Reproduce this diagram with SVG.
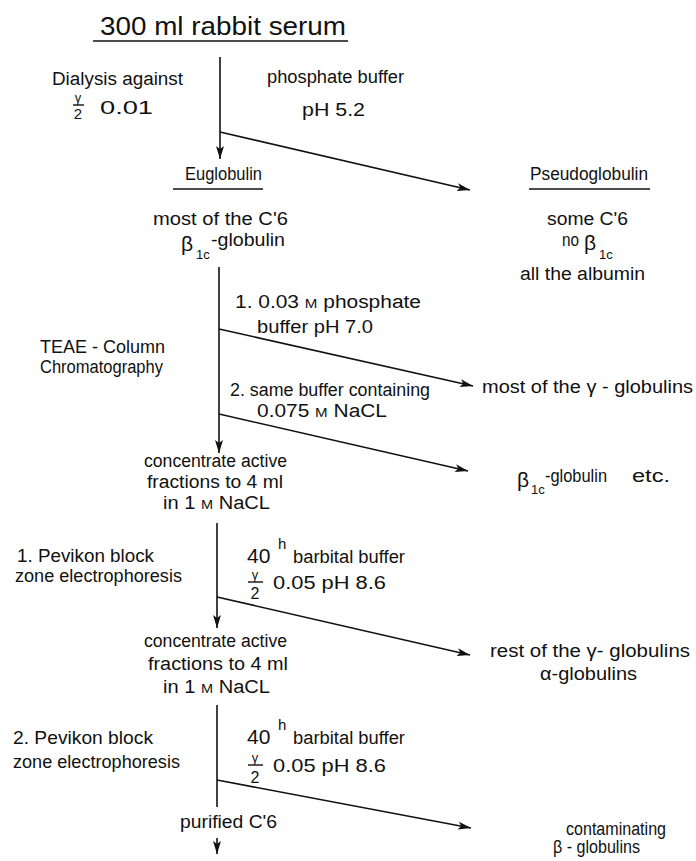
<svg xmlns="http://www.w3.org/2000/svg" width="696" height="861" viewBox="0 0 696 861">
<style>
.t{font-family:"Liberation Sans",Arial,sans-serif;font-size:18px;fill:#111}
.s{font-size:13px}
.b{font-size:21px}
.ln{stroke:#111;stroke-width:1.6;fill:none}
.ul{stroke:#111;stroke-width:1.4;fill:none}
</style>
<defs>
<marker id="ah" markerUnits="userSpaceOnUse" markerWidth="15" markerHeight="10" refX="13" refY="5" orient="auto">
<path d="M0,1 L13,5 L0,9 L3,5 z" fill="#111"/>
</marker>
</defs>
<rect width="696" height="861" fill="#fff"/>

<g id="connectors">
<line class="ln" x1="220" y1="57" x2="220" y2="159" marker-end="url(#ah)"/>
<line class="ln" x1="220" y1="132" x2="470" y2="190" marker-end="url(#ah)"/>
<line class="ln" x1="219" y1="267" x2="219" y2="453" marker-end="url(#ah)"/>
<line class="ln" x1="219" y1="329" x2="473" y2="386" marker-end="url(#ah)"/>
<line class="ln" x1="219" y1="414" x2="468" y2="471" marker-end="url(#ah)"/>
<line class="ln" x1="217" y1="523" x2="217" y2="628" marker-end="url(#ah)"/>
<line class="ln" x1="217" y1="597" x2="470" y2="655" marker-end="url(#ah)"/>
<line class="ln" x1="217" y1="705" x2="217" y2="807"/>
<line class="ln" x1="217" y1="780" x2="471" y2="828" marker-end="url(#ah)"/>
<line class="ln" x1="217" y1="838" x2="217" y2="854" marker-end="url(#ah)"/>
</g>

<g id="serum">
<text class="t" x="100" y="35" style="font-size:25px" textLength="246" lengthAdjust="spacingAndGlyphs">300 ml rabbit serum</text>
<line class="ul" x1="93" y1="41" x2="348" y2="41"/>
</g>

<g id="dialysis">
<text class="t" x="52" y="85" textLength="131" lengthAdjust="spacingAndGlyphs">Dialysis against</text>
<text class="t s" x="78" y="102" text-anchor="middle">γ</text>
<line class="ul" x1="73" y1="105" x2="84" y2="105"/>
<text class="t" x="78" y="119" text-anchor="middle" style="font-size:15px">2</text>
<text class="t" x="100" y="114" textLength="53" lengthAdjust="spacingAndGlyphs">0.01</text>
</g>

<g id="phosphate-buffer">
<text class="t" x="267" y="83" textLength="137" lengthAdjust="spacingAndGlyphs">phosphate buffer</text>
<text class="t" x="302" y="116" textLength="63" lengthAdjust="spacingAndGlyphs">pH 5.2</text>
</g>

<g id="euglobulin">
<text class="t" x="185" y="180" textLength="77" lengthAdjust="spacingAndGlyphs">Euglobulin</text>
<line class="ul" x1="173" y1="189" x2="263" y2="189"/>
<text class="t" x="153" y="225" textLength="135" lengthAdjust="spacingAndGlyphs">most of the C'6</text>
<text class="t b" x="181" y="251">β</text>
<text class="t s" x="196" y="259">1c</text>
<text class="t" x="211" y="246" textLength="74" lengthAdjust="spacingAndGlyphs">-globulin</text>
</g>

<g id="pseudoglobulin">
<text class="t" x="530" y="180" textLength="118" lengthAdjust="spacingAndGlyphs">Pseudoglobulin</text>
<line class="ul" x1="529" y1="189" x2="650" y2="189"/>
<text class="t" x="547" y="225" textLength="81" lengthAdjust="spacingAndGlyphs">some C'6</text>
<text class="t" x="562" y="246" textLength="17" lengthAdjust="spacingAndGlyphs">no</text>
<text class="t b" x="584" y="250">β</text>
<text class="t s" x="599" y="259">1c</text>
<text class="t" x="520" y="280" textLength="125" lengthAdjust="spacingAndGlyphs">all the albumin</text>
</g>

<g id="teae">
<text class="t" x="40" y="353" textLength="125" lengthAdjust="spacingAndGlyphs">TEAE - Column</text>
<text class="t" x="40" y="373" textLength="123" lengthAdjust="spacingAndGlyphs">Chromatography</text>
</g>

<g id="step1-buffer">
<text class="t" x="235" y="308" textLength="186" lengthAdjust="spacingAndGlyphs">1.  0.03 <tspan class="s">M</tspan> phosphate</text>
<text class="t" x="257" y="333" textLength="116" lengthAdjust="spacingAndGlyphs">buffer pH 7.0</text>
</g>

<g id="step2-buffer">
<text class="t" x="230" y="396" textLength="200" lengthAdjust="spacingAndGlyphs">2.  same buffer containing</text>
<text class="t" x="257" y="417" textLength="130" lengthAdjust="spacingAndGlyphs">0.075 <tspan class="s">M</tspan> NaCL</text>
</g>

<g id="gamma-globulins">
<text class="t" x="482" y="393" textLength="211" lengthAdjust="spacingAndGlyphs">most of the γ - globulins</text>
</g>

<g id="beta-globulin">
<text class="t b" x="517" y="487">β</text>
<text class="t s" x="531" y="494">1c</text>
<text class="t" x="545" y="482" textLength="62" lengthAdjust="spacingAndGlyphs">-globulin</text>
<text class="t" x="632" y="482" textLength="38" lengthAdjust="spacingAndGlyphs">etc.</text>
</g>

<g id="concentrate1">
<text class="t" x="144" y="467" textLength="143" lengthAdjust="spacingAndGlyphs">concentrate active</text>
<text class="t" x="147" y="488" textLength="136" lengthAdjust="spacingAndGlyphs">fractions to 4 ml</text>
<text class="t" x="163" y="509" textLength="107" lengthAdjust="spacingAndGlyphs">in 1 <tspan class="s">M</tspan>  NaCL</text>
</g>

<g id="pevikon1">
<text class="t" x="17" y="562" textLength="137" lengthAdjust="spacingAndGlyphs">1.  Pevikon block</text>
<text class="t" x="15" y="582" textLength="167" lengthAdjust="spacingAndGlyphs">zone electrophoresis</text>
</g>

<g id="barbital1">
<text class="t b" x="247" y="563">40</text>
<text class="t" x="278" y="549" style="font-size:15px">h</text>
<text class="t" x="293" y="563" textLength="112" lengthAdjust="spacingAndGlyphs">barbital buffer</text>
<text class="t s" x="255" y="579" text-anchor="middle">γ</text>
<line class="ul" x1="248" y1="582" x2="263" y2="582"/>
<text class="t" x="255" y="599" text-anchor="middle" style="font-size:16px">2</text>
<text class="t" x="273" y="589" textLength="113" lengthAdjust="spacingAndGlyphs">0.05 pH 8.6</text>
</g>

<g id="rest-gamma">
<text class="t" x="490" y="657" textLength="200" lengthAdjust="spacingAndGlyphs">rest of the γ- globulins</text>
<text class="t" x="540" y="680" textLength="97" lengthAdjust="spacingAndGlyphs">α-globulins</text>
</g>

<g id="concentrate2">
<text class="t" x="144" y="647" textLength="143" lengthAdjust="spacingAndGlyphs">concentrate active</text>
<text class="t" x="148" y="670" textLength="140" lengthAdjust="spacingAndGlyphs">fractions to 4 ml</text>
<text class="t" x="163" y="693" textLength="107" lengthAdjust="spacingAndGlyphs">in 1 <tspan class="s">M</tspan>  NaCL</text>
</g>

<g id="pevikon2">
<text class="t" x="13" y="744" textLength="140" lengthAdjust="spacingAndGlyphs">2.  Pevikon block</text>
<text class="t" x="13" y="768" textLength="167" lengthAdjust="spacingAndGlyphs">zone electrophoresis</text>
</g>

<g id="barbital2">
<text class="t b" x="247" y="744">40</text>
<text class="t" x="278" y="730" style="font-size:15px">h</text>
<text class="t" x="293" y="744" textLength="112" lengthAdjust="spacingAndGlyphs">barbital buffer</text>
<text class="t s" x="255" y="762" text-anchor="middle">γ</text>
<line class="ul" x1="248" y1="765" x2="263" y2="765"/>
<text class="t" x="255" y="783" text-anchor="middle" style="font-size:16px">2</text>
<text class="t" x="273" y="772" textLength="113" lengthAdjust="spacingAndGlyphs">0.05 pH 8.6</text>
</g>

<g id="purified">
<text class="t" x="180" y="828" textLength="97" lengthAdjust="spacingAndGlyphs">purified C'6</text>
</g>

<g id="contaminating">
<text class="t" x="566" y="835" textLength="100" lengthAdjust="spacingAndGlyphs">contaminating</text>
<text class="t" x="553" y="853" textLength="87" lengthAdjust="spacingAndGlyphs">β - globulins</text>
</g>
</svg>
